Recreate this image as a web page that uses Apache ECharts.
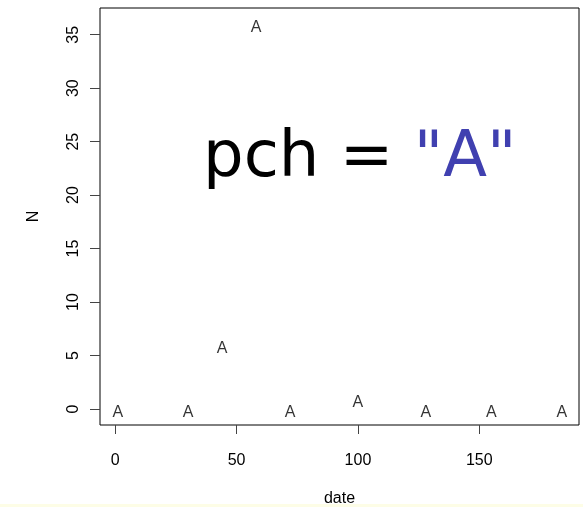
<!DOCTYPE html>
<html>
<head>
<meta charset="utf-8">
<script src="https://cdn.jsdelivr.net/npm/echarts@6/dist/echarts.min.js"></script>
<style>
  html, body { margin: 0; padding: 0; background: #fff; }
  #chart { width: 583px; height: 507px; }
</style>
</head>
<body>
<div id="chart"></div>
<script>
// observations plotted with pch = "A"
const dates = [1, 30, 44, 58, 72, 100, 128, 155, 184];
const counts = [0, 0, 6, 36, 0, 1, 0, 0, 0];
const xTicks = [0, 50, 100, 150];
const yTicks = [0, 5, 10, 15, 20, 25, 30, 35];

const chart = echarts.init(document.getElementById('chart'));

const font = 'Liberation Sans, Arial, sans-serif';

chart.setOption({
  animation: false,
  backgroundColor: '#fff',
  grid: {
    left: 100,
    right: 4,
    top: 8,
    bottom: 82,
    show: true,
    borderColor: '#000',
    borderWidth: 1,
    containLabel: false,
    outerBoundsMode: 'none',
  },
  xAxis: {
    type: 'value',
    min: -6.3,
    max: 191.1,
    name: 'date',
    nameLocation: 'middle',
    nameGap: 66,
    nameTextStyle: { fontFamily: font, fontSize: 16, color: '#000' },
    axisLine: { show: false, onZero: false },
    splitLine: { show: false },
    axisTick: { show: true, length: 9, customValues: xTicks, lineStyle: { color: '#444' } },
    axisLabel: { customValues: xTicks, margin: 28, fontFamily: font, fontSize: 16, color: '#000' },
  },
  yAxis: {
    type: 'value',
    min: -1.5,
    max: 37.5,
    name: 'N',
    nameLocation: 'middle',
    nameGap: 58,
    nameRotate: 90,
    nameTextStyle: { fontFamily: font, fontSize: 16, color: '#000' },
    axisLine: { show: false, onZero: false },
    splitLine: { show: false },
    axisTick: { show: true, length: 10, customValues: yTicks, lineStyle: { color: '#444' } },
    axisLabel: { customValues: yTicks, rotate: 90, margin: 18, fontFamily: font, fontSize: 16, color: '#000', align: 'center', verticalAlign: 'bottom' },
  },
  series: [{
    type: 'scatter',
    data: dates.map((d, i) => [d, counts[i]]),
    symbolSize: 0,
    label: {
      show: true,
      position: 'inside',
      formatter: 'A',
      offset: [0, 4],
      fontFamily: font,
      fontSize: 16,
      color: '#000',
    },
  }],
  graphic: [
    {
      type: 'text',
      left: 203,
      top: 127,
      style: {
        text: '{a|pch = }{b|"A"}',
        rich: {
          a: { fontFamily: 'DejaVu Sans', fontSize: 64, fill: '#000' },
          b: { fontFamily: 'DejaVu Sans', fontSize: 64, fill: '#4040B0' },
        },
      },
    },
    {
      type: 'rect',
      shape: { x: 0, y: 504, width: 583, height: 3 },
      style: { fill: '#fdfde6' },
      silent: true,
    },
  ],
});
</script>
</body>
</html>
